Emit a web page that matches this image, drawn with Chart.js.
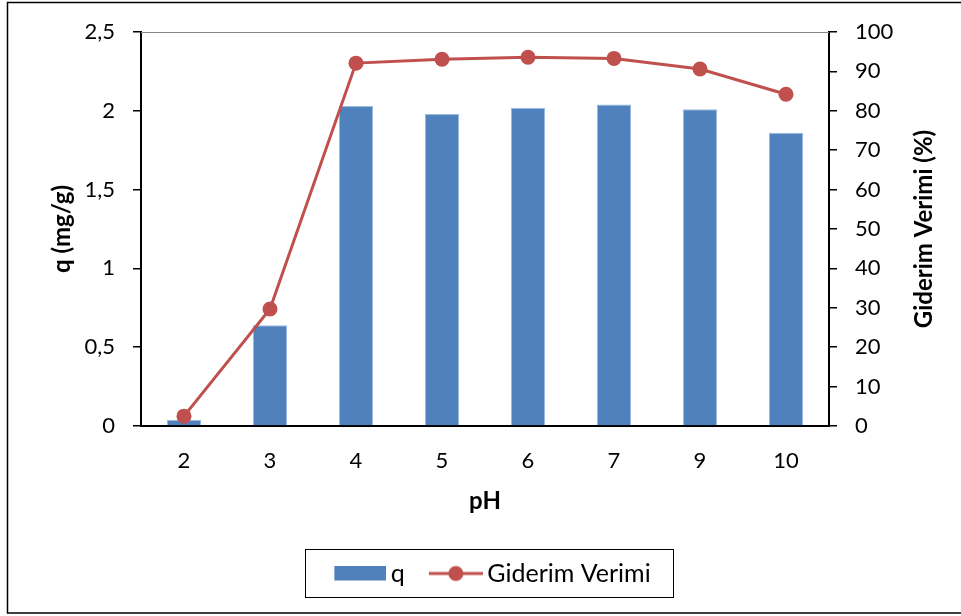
<!DOCTYPE html>
<html>
<head>
<meta charset="utf-8">
<script src="https://cdn.jsdelivr.net/npm/chart.js@4/dist/chart.umd.min.js"></script>
<style>
  html, body { margin: 0; padding: 0; background: #fff; }
  #wrap { position: relative; width: 961px; height: 616px; }
</style>
</head>
<body>
<div id="wrap"><canvas id="c" width="961" height="616"></canvas></div>
<script>
// ---- data ----
const categories = ['2', '3', '4', '5', '6', '7', '9', '10'];
const qValues = [0.04, 0.64, 2.03, 1.98, 2.02, 2.04, 2.01, 1.86];
const removalValues = [2.5, 29.7, 92.1, 93.1, 93.6, 93.3, 90.6, 84.2];
const seriesNames = ['q', 'Giderim Verimi'];
const axisTitles = { x: 'pH', yLeft: 'q (mg/g)', yRight: 'Giderim Verimi (%)' };

const BAR = '#4F81BD';
const LINE = '#C0504D';
const FONT = 'Lato';

// legend icons
function barIcon() {
  const c = document.createElement('canvas'); c.width = 60; c.height = 16;
  const x = c.getContext('2d'); x.fillStyle = BAR; x.fillRect(8, 0, 52, 15); return c;
}
function lineIcon() {
  const c = document.createElement('canvas'); c.width = 60; c.height = 18;
  const x = c.getContext('2d');
  x.strokeStyle = LINE; x.lineWidth = 3; x.beginPath(); x.moveTo(6, 9); x.lineTo(60, 9); x.stroke();
  x.fillStyle = LINE; x.beginPath(); x.arc(33, 9, 7.5, 0, Math.PI * 2); x.fill(); return c;
}
const icons = [barIcon(), lineIcon()];

const PAD_L = 24, PAD_B = 20;
const AREA = { left: 141, right: 829, top: 32, bottom: 426 };

const decor = {
  id: 'decor',
  beforeDraw(chart) {
    const ctx = chart.ctx;
    ctx.save();
    ctx.fillStyle = '#fff'; ctx.fillRect(0, 0, chart.width, chart.height);
    ctx.strokeStyle = '#000'; ctx.lineWidth = 1.5;
    ctx.beginPath();
    ctx.moveTo(975, 2.5); ctx.lineTo(7.5, 2.5); ctx.lineTo(7.5, 613); ctx.lineTo(975, 613);
    ctx.stroke();
    ctx.restore();
  },
  afterDraw(chart) {
    const ctx = chart.ctx, a = chart.chartArea;
    ctx.save();
    // plot-area top border
    ctx.strokeStyle = '#868686'; ctx.lineWidth = 1;
    ctx.beginPath(); ctx.moveTo(a.left, a.top + 0.5); ctx.lineTo(a.right, a.top + 0.5); ctx.stroke();
    // right axis title (reads bottom to top)
    ctx.fillStyle = '#000';
    ctx.font = 'bold 24px ' + FONT;
    ctx.textAlign = 'center'; ctx.textBaseline = 'middle';
    ctx.translate(924, 229); ctx.rotate(-Math.PI / 2);
    ctx.fillText(axisTitles.yRight, 0, 0);
    ctx.restore();
    // legend border
    const hb = chart.legend.legendHitBoxes;
    if (hb && hb.length) {
      const first = hb[0], last = hb[hb.length - 1];
      ctx.save();
      ctx.strokeStyle = '#000'; ctx.lineWidth = 1;
      const l = Math.round(first.left - 29) + 0.5, r = Math.round(last.left + last.width + 22) + 0.5;
      const t = Math.round(first.top - 12) + 0.5, b = Math.round(first.top + first.height + 11) + 0.5;
      ctx.strokeRect(l, t, r - l, b - t);
      ctx.restore();
    }
  }
};

new Chart(document.getElementById('c'), {
  data: {
    labels: categories,
    datasets: [
      {
        type: 'line', label: seriesNames[1], data: removalValues, yAxisID: 'y1',
        borderColor: LINE, backgroundColor: LINE, borderWidth: 3,
        pointRadius: 7.5, pointHoverRadius: 7.5, pointBackgroundColor: LINE, pointBorderWidth: 0,
        tension: 0, order: 0
      },
      {
        type: 'bar', label: seriesNames[0], data: qValues, yAxisID: 'y',
        backgroundColor: BAR, borderColor: '#9fbbe0', borderWidth: { top: 1, left: 1, right: 1, bottom: 0 },
        barPercentage: 0.4, categoryPercentage: 1.0, order: 1
      }
    ]
  },
  options: {
    responsive: false, animation: false,
    layout: { padding: { left: PAD_L, right: 0, top: AREA.top, bottom: PAD_B } },
    plugins: {
      tooltip: { enabled: false },
      legend: {
        position: 'bottom',
        labels: {
          font: { family: FONT, size: 25 }, color: '#000',
          usePointStyle: true, pointStyleWidth: 44, boxHeight: 15, padding: 26,
          generateLabels(chart) {
            return [
              { text: seriesNames[0], pointStyle: icons[0], datasetIndex: 1, fillStyle: BAR, strokeStyle: BAR, lineWidth: 0, fontColor: '#000' },
              { text: seriesNames[1], pointStyle: icons[1], datasetIndex: 0, fillStyle: LINE, strokeStyle: LINE, lineWidth: 0, fontColor: '#000' }
            ];
          }
        }
      }
    },
    scales: {
      x: {
        grid: { display: true, drawOnChartArea: false, drawTicks: false },
        border: { display: true, color: '#000', width: 2 },
        ticks: { font: { family: FONT, size: 22 }, color: '#000', padding: 22, maxRotation: 0 },
        title: { display: true, text: axisTitles.x, font: { family: FONT, size: 24, weight: 'bold' }, color: '#000', padding: { top: 0, bottom: 19 } },
        afterFit(s) { s.height = s.chart.height - AREA.bottom - s.chart.legend.height - PAD_B; }
      },
      y: {
        position: 'left', min: 0, max: 2.5,
        grid: { display: true, drawOnChartArea: false, drawTicks: true, tickLength: 8, color: '#000', lineWidth: 1.5 },
        border: { display: true, color: '#000', width: 2 },
        ticks: { stepSize: 0.5, font: { family: FONT, size: 22 }, color: '#000', padding: 18,
                 callback: v => String(v).replace('.', ',') },
        title: { display: true, text: axisTitles.yLeft, font: { family: FONT, size: 24, weight: 'bold' }, color: '#000', padding: { top: 24, bottom: 0 } },
        afterFit(s) { s.width = AREA.left - PAD_L; }
      },
      y1: {
        position: 'right', min: 0, max: 100,
        grid: { display: true, drawOnChartArea: false, drawTicks: true, tickLength: 8, color: '#000', lineWidth: 1.5 },
        border: { display: true, color: '#000', width: 2 },
        ticks: { stepSize: 10, font: { family: FONT, size: 22 }, color: '#000', padding: 18 },
        afterFit(s) { s.width = s.chart.width - AREA.right; }
      }
    }
  },
  plugins: [decor]
});
</script>
</body>
</html>
